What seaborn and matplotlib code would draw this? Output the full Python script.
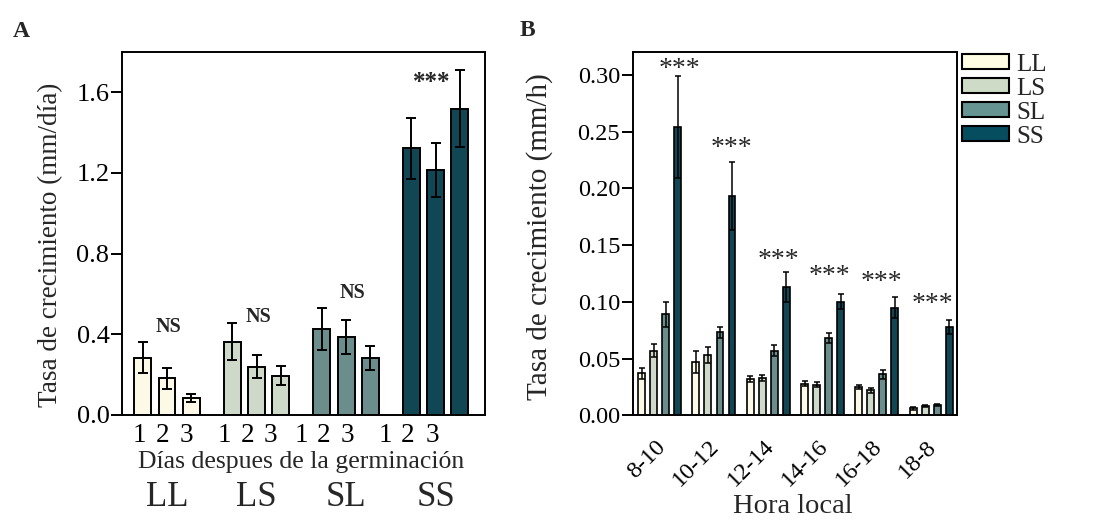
import numpy as np
import pandas as pd
import matplotlib
matplotlib.use("Agg")
import matplotlib.pyplot as plt
import matplotlib.patches as mpatches
import matplotlib.transforms as mtransforms
from matplotlib.container import BarContainer
import seaborn as sns

# ---------------- data ----------------
treatments = ["LL", "LS", "SL", "SS"]
colors = ["#FFFDE3", "#CEDCC7", "#659492", "#064D5F"]

# Panel A: growth rate (mm/dia) for days 1-3 after germination
days = ["1", "2", "3"]
a_LL = [0.285, 0.182, 0.083]
a_LS = [0.364, 0.240, 0.195]
a_SL = [0.427, 0.386, 0.282]
a_SS = [1.322, 1.214, 1.519]
a_err_LL = [0.075, 0.053, 0.021]
a_err_LS = [0.092, 0.058, 0.048]
a_err_SL = [0.103, 0.086, 0.061]
a_err_SS = [0.152, 0.133, 0.190]
a_signif = ["NS", "NS", "NS", "***"]

# Panel B: growth rate (mm/h) per local time window
horas = ["8-10", "10-12", "12-14", "14-16", "16-18", "18-8"]
b_LL = [0.037, 0.047, 0.032, 0.028, 0.025, 0.006]
b_LS = [0.057, 0.053, 0.033, 0.027, 0.022, 0.008]
b_SL = [0.089, 0.073, 0.057, 0.068, 0.036, 0.009]
b_SS = [0.254, 0.193, 0.113, 0.100, 0.095, 0.078]
b_err_LL = [0.005, 0.0097, 0.0024, 0.0024, 0.002, 0.001]
b_err_LS = [0.006, 0.0068, 0.0024, 0.002, 0.002, 0.001]
b_err_SL = [0.011, 0.005, 0.0047, 0.0047, 0.004, 0.001]
b_err_SS = [0.045, 0.030, 0.013, 0.0065, 0.009, 0.006]
b_signif = ["***"] * 6

# ---------------- style ----------------
sns.set_theme(style="ticks")
plt.rcParams["font.family"] = ["Liberation Serif", "DejaVu Serif"]
plt.rcParams["axes.edgecolor"] = "black"
plt.rcParams["axes.linewidth"] = 1.4
plt.rcParams["xtick.color"] = "black"
plt.rcParams["ytick.color"] = "black"

fig = plt.figure(figsize=(11.04, 5.22), dpi=100)
axA = fig.add_axes([0.1105, 0.205, 0.3288, 0.6955])
axB = fig.add_axes([0.5731, 0.2044, 0.2937, 0.6956])

# ---------------- Panel A ----------------
group_step = 3.7
a_vals = [a_LL, a_LS, a_SL, a_SS]
a_errs = [a_err_LL, a_err_LS, a_err_SL, a_err_SS]
rows = []
for g, t in enumerate(treatments):
    for j, d in enumerate(days):
        rows.append({"x": g * group_step + j, "trt": t, "day": d,
                     "val": a_vals[g][j], "err": a_errs[g][j]})
dfA = pd.DataFrame(rows)

sns.barplot(data=dfA, x="x", y="val", hue="trt", hue_order=treatments,
            palette=colors, native_scale=True, dodge=False, width=0.7,
            edgecolor="black", linewidth=1.4, errorbar=None, legend=False,
            ax=axA)
axA.errorbar(dfA["x"], dfA["val"], yerr=dfA["err"], fmt="none",
             ecolor="black", elinewidth=1.4, capsize=3.5, capthick=1.4)

axA.set_xlim(-0.86, 14.14)
axA.set_ylim(0, 1.8)
axA.set_yticks([0.0, 0.4, 0.8, 1.2, 1.6])
axA.set_yticklabels([f"{v:.1f}" for v in [0.0, 0.4, 0.8, 1.2, 1.6]])
axA.tick_params(axis="y", direction="out", length=8, width=1.4,
                labelsize=19, pad=1)
# day tick labels (slightly shifted as in original)
tick_shift = [-0.15, -0.2, -0.21, -0.33, -0.38, -0.43, -0.86, -0.95, -0.95,
              -1.09, -1.14, -1.15]
axA.set_xticks(dfA["x"] + np.array(tick_shift))
axA.set_xticklabels(list(dfA["day"]))
axA.tick_params(axis="x", length=0, labelsize=19.5, pad=6)
axA.set_xlabel("")
axA.set_ylabel("Tasa de crecimiento (mm/día)", fontsize=19.5)
axA.yaxis.set_label_coords(-0.1625, 0.468)
for s in axA.spines.values():
    s.set_visible(True)
    s.set_linewidth(1.4)

axA.text(0.493, -0.129, "Días despues de la germinación", transform=axA.transAxes,
         ha="center", va="center", fontsize=18.5)
trans_A = mtransforms.blended_transform_factory(axA.transData, axA.transAxes)
for g, t in enumerate(treatments):
    axA.text(g * group_step + 1, -0.226, t, transform=trans_A,
             ha="center", va="center", fontsize=25)

sig_pos_A = [(1.05, 0.437), (4.78, 0.488), (8.66, 0.605), (11.95, 1.65)]
for (sx, sy), lab in zip(sig_pos_A, a_signif):
    axA.text(sx, sy, lab, ha="center", va="center", fontweight="bold",
             fontsize=18 if lab == "***" else 14.5)

# ---------------- Panel B ----------------
b_vals = [b_LL, b_LS, b_SL, b_SS]
b_errs = [b_err_LL, b_err_LS, b_err_SL, b_err_SS]
rowsB = []
for j, t in enumerate(treatments):
    for i, h in enumerate(horas):
        rowsB.append({"hora": h, "trt": t, "val": b_vals[j][i], "err": b_errs[j][i]})
dfB = pd.DataFrame(rowsB)

sns.barplot(data=dfB, x="hora", y="val", hue="trt", order=horas,
            hue_order=treatments, palette=colors, width=0.885, gap=0.42,
            edgecolor="black", linewidth=1.2, errorbar=None, legend=False,
            ax=axB)
bar_conts = [c for c in axB.containers if isinstance(c, BarContainer)]
for j, cont in enumerate(bar_conts):
    xs = [p.get_x() + p.get_width() / 2 for p in cont]
    axB.errorbar(xs, b_vals[j], yerr=b_errs[j], fmt="none", ecolor="black",
                 elinewidth=1.1, capsize=2, capthick=1.1)

axB.set_xlim(-0.497, 5.475)
axB.set_ylim(0, 0.32)
yt = [0.0, 0.05, 0.10, 0.15, 0.20, 0.25, 0.30]
axB.set_yticks(yt)
axB.set_yticklabels([f"{v:.2f}" for v in yt])
axB.tick_params(axis="y", direction="out", length=8, width=1.4,
                labelsize=17.5, pad=1)
axB.tick_params(axis="x", length=0, labelsize=17.5, pad=15)
offset = mtransforms.ScaledTranslation(-5 / 100, 0, fig.dpi_scale_trans)
for lab in axB.get_xticklabels():
    lab.set_rotation(45)
    lab.set_ha("right")
    lab.set_rotation_mode("anchor")
    lab.set_transform(lab.get_transform() + offset)
axB.set_xlabel("Hora local", fontsize=20.5)
axB.xaxis.set_label_coords(0.494, -0.218)
axB.set_ylabel("Tasa de crecimiento (mm/h)", fontsize=21)
axB.yaxis.set_label_coords(-0.246, 0.492)
for s in axB.spines.values():
    s.set_visible(True)
    s.set_linewidth(1.4)

star_x = [0.37, 1.32, 2.18, 3.13, 4.09, 5.03]
star_y = [0.305, 0.235, 0.136, 0.122, 0.117, 0.098]
for sx, sy, lab in zip(star_x, star_y, b_signif):
    axB.text(sx, sy, lab, ha="center", va="center", fontsize=20)

handles = [mpatches.Patch(facecolor=c, edgecolor="black", linewidth=1.5, label=t)
           for c, t in zip(colors, treatments)]
fig.legend(handles=handles, loc="upper left", bbox_to_anchor=(0.871, 0.897),
           frameon=False, fontsize=18, handlelength=1.9, handleheight=0.55,
           handletextpad=0.3, labelspacing=0.08, borderpad=0, borderaxespad=0)

fig.text(0.0197, 0.939, "A", fontsize=17, fontweight="bold", ha="center", va="center")
fig.text(0.4778, 0.941, "B", fontsize=17, fontweight="bold", ha="center", va="center")

fig.savefig("out.png", dpi=100)
